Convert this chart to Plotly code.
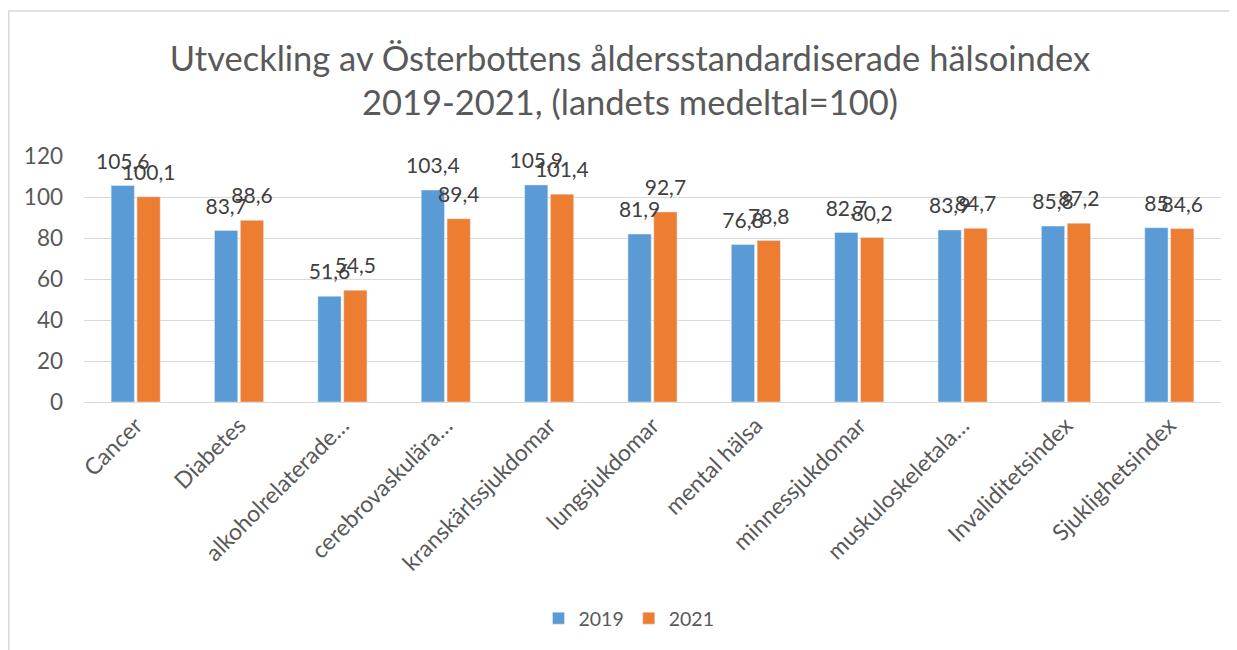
import plotly.graph_objects as go

categories = ["Cancer", "Diabetes", "alkoholrelaterade…", "cerebrovaskulära…",
              "kranskärlssjukdomar", "lungsjukdomar", "mental hälsa",
              "minnessjukdomar", "muskuloskeletala…", "Invaliditetsindex",
              "Sjuklighetsindex"]
values_2019 = [105.6, 83.7, 51.6, 103.4, 105.9, 81.9, 76.8, 82.7, 83.9, 85.8, 85]
values_2021 = [100.1, 88.6, 54.5, 89.4, 101.4, 92.7, 78.8, 80.2, 84.7, 87.2, 84.6]
y_ticks = [0, 20, 40, 60, 80, 100, 120]

FONT = "Lato"
OFF = 8  # page body margin
W, H = 1237 - OFF, 650 - OFF
L, R, T, B = 84 - OFF, 16, 156 - OFF, 248
pw, ph = W - L - R, H - T - B


def fmt(v):
    return (f"{v:g}").replace(".", ",")


fig = go.Figure()
series = [("2019", values_2019, "#5b9bd5"), ("2021", values_2021, "#ed7d31")]
for name, vals, col in series:
    fig.add_trace(go.Bar(
        x=categories, y=vals, name=name, marker_color=col,
        offsetgroup=name,
    ))
for name, vals, col in series:
    fig.add_trace(go.Scatter(
        x=categories, y=vals, mode="text+markers", showlegend=False,
        offsetgroup=name, text=[fmt(v) for v in vals], textposition="top center",
        marker=dict(size=17, color="rgba(0,0,0,0)"),
        textfont=dict(family=FONT, size=21, color="#404040"),
        cliponaxis=False, hoverinfo="skip",
    ))

fig.update_layout(
    width=W, height=H,
    margin=dict(l=L, r=R, t=T, b=B),
    paper_bgcolor="white", plot_bgcolor="white",
    barmode="group", bargap=0.5, bargroupgap=0.1,
    scattermode="group", scattergap=0.5,
    title=dict(
        text="Utveckling av Österbottens åldersstandardiserade hälsoindex<br>2019-2021, (landets medeltal=100)",
        x=(630 - OFF) / W, xanchor="center", y=1 - 62.5 / H, yanchor="top",
        font=dict(family=FONT, size=34.5, color="#595959"),
    ),
    font=dict(family=FONT, color="#595959"),
    showlegend=True,
    legend=dict(orientation="h", x=(629 - OFF) / W, xanchor="center", xref="container",
                y=1 - (599 - OFF) / H, yref="container", yanchor="top",
                font=dict(family=FONT, size=19.5, color="#595959"),
                itemwidth=30, traceorder="normal"),
    xaxis=dict(tickangle=-45, tickfont=dict(family=FONT, size=23, color="#595959"),
               showline=True, linecolor="#d9d9d9", linewidth=1, ticks="",
               automargin=False),
    yaxis=dict(range=[0, 120], tickvals=y_ticks, showgrid=True, gridcolor="#d9d9d9",
               gridwidth=1, zeroline=False, ticks="", ticklen=0, automargin=False,
               ticklabelstandoff=20,
               tickfont=dict(family=FONT, size=22.5, color="#595959")),
    shapes=[dict(type="rect", xref="paper", yref="paper",
                 x0=(0.75 - L) / pw, x1=(W + 20 - L) / pw,
                 y0=-(B + 20) / ph, y1=1 + (T - 3) / ph,
                 line=dict(color="#d9d9d9", width=1.5), fillcolor="rgba(0,0,0,0)",
                 layer="below")],
)

fig.write_html("out.html")
